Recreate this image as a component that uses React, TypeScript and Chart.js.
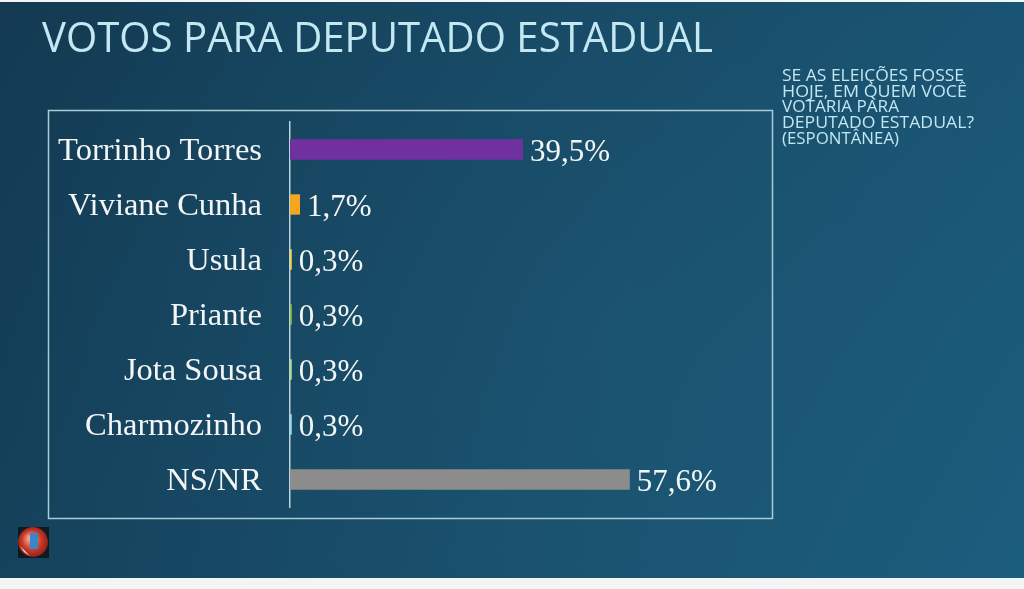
import React, { useEffect, useRef } from "react";
import { Chart, registerables } from "chart.js";

Chart.register(...registerables);

const TITLE = "VOTOS PARA DEPUTADO ESTADUAL";
const NOTE_LINES = [
  "SE AS ELEIÇÕES FOSSE",
  "HOJE, EM QUEM VOCÊ",
  "VOTARIA PARA",
  "DEPUTADO ESTADUAL?",
  "(ESPONTÂNEA)",
];
const CANDIDATES = [
  "Torrinho Torres",
  "Viviane Cunha",
  "Usula",
  "Priante",
  "Jota Sousa",
  "Charmozinho",
  "NS/NR",
];
const VOTES = [39.5, 1.7, 0.3, 0.3, 0.3, 0.3, 57.6];
const VALUE_LABELS = ["39,5%", "1,7%", "0,3%", "0,3%", "0,3%", "0,3%", "57,6%"];
const BAR_COLORS = [
  "#7030a0",
  "#f5a623",
  "#f2d34a",
  "#8cc152",
  "#b5d98a",
  "#8fdbe4",
  "#8c8c8c",
];

function fitText(ctx: CanvasRenderingContext2D, text: string, x: number, y: number, w: number) {
  const m = ctx.measureText(text).width;
  ctx.save();
  ctx.translate(x, y);
  ctx.scale(w / m, 1);
  ctx.fillText(text, 0, 0);
  ctx.restore();
}

const decorPlugin = {
  id: "decor",
  beforeDraw(chart: any) {
    const ctx: CanvasRenderingContext2D = chart.ctx;
    const W = chart.width;
    const H = chart.height;
    ctx.save();
    const g = ctx.createLinearGradient(0, 0, W, H);
    g.addColorStop(0, "#133a52");
    g.addColorStop(0.5, "#174a66");
    g.addColorStop(1, "#1b5d7d");
    ctx.fillStyle = g;
    ctx.fillRect(0, 0, W, H);
    const r = ctx.createRadialGradient(W * 0.6, H * 0.55, 10, W * 0.6, H * 0.55, W * 0.6);
    r.addColorStop(0, "rgba(40,110,140,0.18)");
    r.addColorStop(1, "rgba(40,110,140,0)");
    ctx.fillStyle = r;
    ctx.fillRect(0, 0, W, H);
    // white strips
    ctx.fillStyle = "#f3f4f4";
    ctx.fillRect(0, 578, W, H - 578);
    ctx.fillRect(0, 0, W, 2);

    // title
    ctx.fillStyle = "#c4e8f2";
    ctx.textBaseline = "alphabetic";
    ctx.textAlign = "left";
    ctx.font = "42px 'Open Sans'";
    fitText(ctx, TITLE, 42, 52, 671);

    // note
    ctx.fillStyle = "#c2e6f2";
    ctx.font = "15.5px 'Open Sans'";
    const widths = [182, 185, 117, 192, 117];
    NOTE_LINES.forEach((t, i) => {
      fitText(ctx, t, 782, 81 + i * 15.7, widths[i]);
    });

    // box
    ctx.strokeStyle = "#a9ccd8";
    ctx.lineWidth = 1.5;
    ctx.strokeRect(48.5, 110.5, 724, 408);

    // logo
    ctx.fillStyle = "#0c1a22";
    ctx.fillRect(18, 527, 31, 31);
    const lg = ctx.createRadialGradient(30, 538, 2, 33, 542, 16);
    lg.addColorStop(0, "#f0a090");
    lg.addColorStop(0.5, "#d0402e");
    lg.addColorStop(1, "#8a1c14");
    ctx.fillStyle = lg;
    ctx.beginPath();
    ctx.arc(33, 542, 15, 0, Math.PI * 2);
    ctx.fill();
    ctx.fillStyle = "#3a86c8";
    ctx.fillRect(30, 533, 8, 16);
    ctx.fillStyle = "#e8e8e8";
    ctx.beginPath();
    ctx.moveTo(20, 546);
    ctx.lineTo(30, 556);
    ctx.lineTo(24, 552);
    ctx.closePath();
    ctx.fill();
    ctx.restore();
  },
  afterDatasetsDraw(chart: any) {
    const ctx: CanvasRenderingContext2D = chart.ctx;
    const meta = chart.getDatasetMeta(0);
    const yScale = chart.scales.y;
    ctx.save();
    ctx.fillStyle = "#f4f6f6";
    ctx.textBaseline = "alphabetic";
    // category labels
    ctx.font = "32.5px 'Liberation Serif'";
    ctx.textAlign = "right";
    CANDIDATES.forEach((c, i) => {
      const y = yScale.getPixelForValue(i);
      ctx.fillText(c, chart.chartArea.left - 28, y + 10);
    });
    // value labels
    ctx.font = "31px 'Liberation Serif'";
    ctx.textAlign = "left";
    meta.data.forEach((bar: any, i: number) => {
      ctx.fillText(VALUE_LABELS[i], bar.x + 7, bar.y + 11);
    });
    ctx.restore();
  },
};

export default function App() {
  const ref = useRef<HTMLCanvasElement>(null);
  useEffect(() => {
    if (!ref.current) return;
    const chart = new Chart(ref.current, {
      type: "bar",
      data: {
        labels: CANDIDATES,
        datasets: [
          {
            data: VOTES,
            backgroundColor: BAR_COLORS,
            borderWidth: 0,
            categoryPercentage: 1,
            barPercentage: 0.37,
          },
        ],
      },
      options: {
        indexAxis: "y",
        responsive: false,
        animation: false,
        layout: { padding: { left: 48, right: 262, top: 122, bottom: 82 } },
        plugins: { legend: { display: false }, tooltip: { enabled: false } },
        scales: {
          x: { display: false, min: 0, max: 80 },
          y: {
            afterFit: (s: any) => {
              s.width = 242;
            },
            grid: { display: false },
            border: { display: true, color: "#b8d4de", width: 1.5 },
            ticks: { display: false },
          },
        },
      },
      plugins: [decorPlugin],
    });
    return () => chart.destroy();
  }, []);
  return (
    <div style={{ position: "fixed", left: 0, top: 0, width: 1024, height: 589 }}>
      <canvas ref={ref} width={1024} height={589} style={{ display: "block" }} />
    </div>
  );
}
